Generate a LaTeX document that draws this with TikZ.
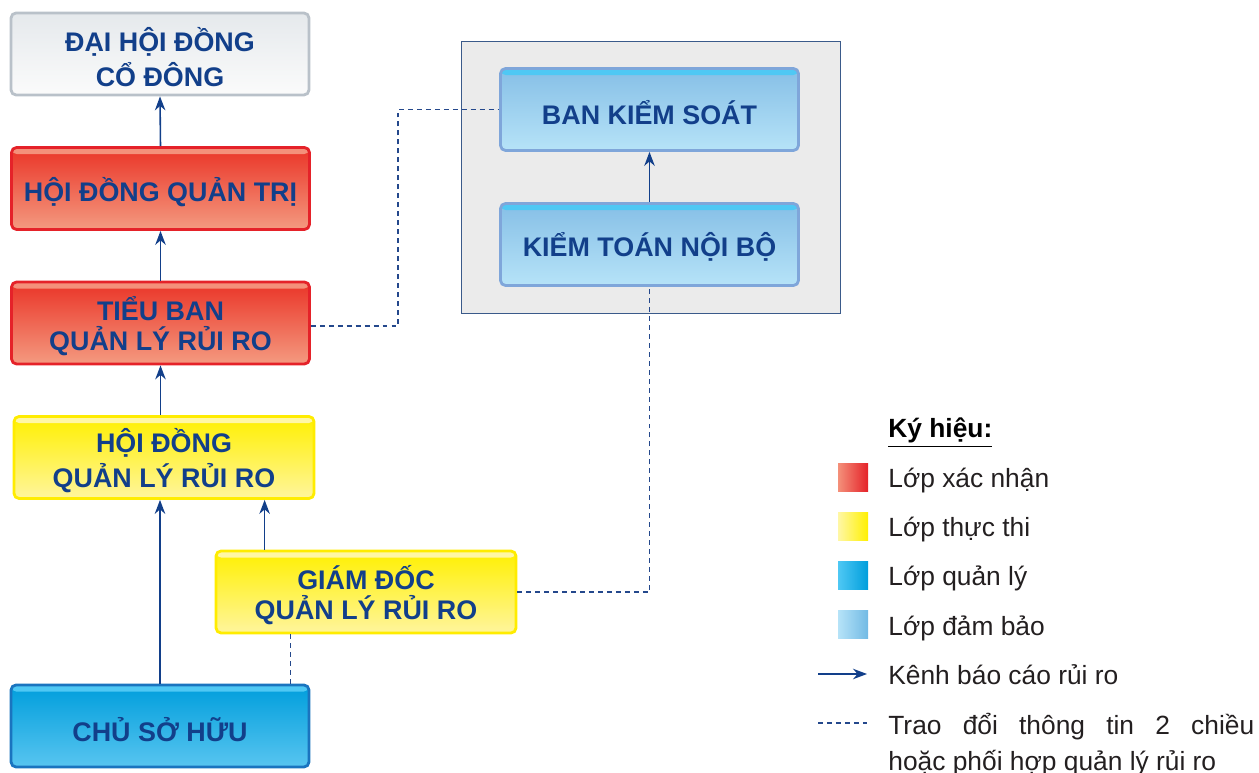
\documentclass[tikz,border=0pt]{standalone}
\usepackage{fontspec}
\setmainfont{Liberation Sans}
\usetikzlibrary{arrows.meta}

\definecolor{navy}{HTML}{123F8A}
\definecolor{linkc}{HTML}{24488C}
\definecolor{redB}{HTML}{E52229}
\definecolor{redT}{HTML}{EA3427}
\definecolor{redD}{HTML}{F49A80}
\definecolor{redH}{HTML}{F4907A}
\definecolor{yelB}{HTML}{FFEC00}
\definecolor{yelT}{HTML}{FFF000}
\definecolor{yelD}{HTML}{FFF59D}
\definecolor{yelH}{HTML}{FFF7A6}
\definecolor{bluB}{HTML}{1A74BF}
\definecolor{bluT}{HTML}{009EDC}
\definecolor{bluD}{HTML}{58C5F0}
\definecolor{bluH}{HTML}{4FC8F4}
\definecolor{lbB}{HTML}{7FA6DA}
\definecolor{lbT}{HTML}{86BFE6}
\definecolor{lbD}{HTML}{B6E3F8}
\definecolor{gryB}{HTML}{B9C1C9}
\definecolor{gryT}{HTML}{E5E9EC}
\definecolor{gryD}{HTML}{FBFBFB}
\definecolor{panelF}{HTML}{EBEBEB}
\definecolor{panelB}{HTML}{3A5A8A}
\definecolor{legtxt}{HTML}{231F20}

% box label pushed a little below the centre, under the glossy top band
\newcommand{\boxlabel}[2]{\raisebox{#1}[\height][\depth]{\shortstack{#2}}}

\tikzset{
  box/.style={rectangle, rounded corners=0.1cm, line width=1.6pt,
    minimum width=5.96cm, minimum height=1.64cm, inner sep=0pt,
    align=center, text=navy,
    font=\fontsize{15.3}{18.2}\selectfont\bfseries},
  hilite/.style={path picture={\fill[#1] (path picture bounding box.north west)
    rectangle ([yshift=-0.13cm]path picture bounding box.north east);}},
  graybox/.style={box, draw=gryB, top color=gryT, bottom color=gryD},
  redbox/.style={box, draw=redB, top color=redT, bottom color=redD, hilite=redH},
  yelbox/.style={box, draw=yelB, top color=yelT, bottom color=yelD, hilite=yelH},
  blubox/.style={box, draw=bluB, top color=bluT, bottom color=bluD, hilite=bluH},
  lbbox/.style={box, draw=lbB, top color=lbT, bottom color=lbD, hilite=bluH},
  panel/.style={rectangle, draw=panelB, fill=panelF, line width=0.5pt,
    minimum width=7.58cm, minimum height=5.44cm, inner sep=0pt},
  arr/.style={draw=navy, line width=0.9pt,
    -{Stealth[length=2.8mm,width=2.1mm,inset=0.9mm]}},
  dsh/.style={draw=linkc, line width=0.75pt, dash pattern=on 2.8pt off 2.3pt},
  legsq/.style={rectangle, minimum width=0.6cm, minimum height=0.58cm, inner sep=0pt},
  legtext/.style={anchor=base west, inner sep=0pt, text=legtxt,
    font=\fontsize{15}{18}\selectfont},
}

\begin{document}
\begin{tikzpicture}[x=0.02cm, y=-0.02cm]
\useasboundingbox (0,0) rectangle (1259,773);

% control panel behind the two supervisory boxes
\node[panel] (ks) at (650.5,177) {};

% main reporting chain
\node[graybox] (dhcd) at (160,54) {\boxlabel{-1.8pt}{ĐẠI HỘI ĐỒNG\\[0.5pt]CỔ ĐÔNG}};
\node[redbox] (hdqt) at (160.5,188.5) {\boxlabel{-1.8pt}{HỘI ĐỒNG QUẢN TRỊ}};
\node[redbox] (tb) at (160.5,323) {\boxlabel{-1.8pt}{TIỂU BAN\\[0.5pt]QUẢN LÝ RỦI RO}};
\node[yelbox, minimum width=6cm] (hdqlrr) at (164,457.5) {\boxlabel{-1.8pt}{HỘI ĐỒNG\\[0.5pt]QUẢN LÝ RỦI RO}};
\node[yelbox, minimum width=6cm] (gd) at (366,592) {\boxlabel{-1.8pt}{GIÁM ĐỐC\\[0.5pt]QUẢN LÝ RỦI RO}};
\node[blubox] (csh) at (160,726) {\boxlabel{-1.8pt}{CHỦ SỞ HỮU}};

% supervisory boxes
\node[lbbox] (bks) at (649.5,109.5) {\boxlabel{-1.5pt}{BAN KIỂM SOÁT}};
\node[lbbox] (ktnb) at (649.5,244.5) {\boxlabel{-1.5pt}{KIỂM TOÁN NỘI BỘ}};

% reporting arrows
\draw[arr] (hdqt.north) -- (dhcd.south);
\draw[arr] (tb.north) -- (hdqt.south);
\draw[arr] (hdqlrr.north -| tb.south) -- (tb.south);
\draw[arr] (csh.north) -- (csh.north |- hdqlrr.south);
\coordinate (g1) at ([xshift=1cm]gd.north west);
\draw[arr] (g1) -- (g1 |- hdqlrr.south);
\draw[arr] (ktnb.north) -- (bks.south);

% two-way coordination links
\coordinate (j1) at (398,326);
\draw[dsh] (tb.east |- j1) -- (j1) |- (bks.west);
\draw[dsh] (gd.east) -| (ktnb.south);
\coordinate (g2) at ([xshift=1.52cm]gd.south west);
\draw[dsh] (g2) -- (g2 |- csh.north);

% legend
\node[anchor=base west, inner sep=0pt, text=black,
  font=\fontsize{15}{18}\selectfont\bfseries] (lt) at (888,438) {\underline{Ký hiệu:}};
\node[legsq, left color=redH, right color=redB] (s1) at (853,477.5) {};
\node[legsq, left color=yelH, right color=yelT] (s2) at (853,526.5) {};
\node[legsq, left color=bluH, right color=bluT] (s3) at (853,575.5) {};
\node[legsq, left color=lbD, right color=lbT!85!bluT] (s4) at (853,624.5) {};
\node[legtext] (t1) at (888,488) {Lớp xác nhận};
\node[legtext] (t2) at (888,537) {Lớp thực thi};
\node[legtext] (t3) at (888,586) {Lớp quản lý};
\node[legtext] (t4) at (888,636) {Lớp đảm bảo};
\coordinate (a1) at (818,674);
\coordinate (a2) at (867,674);
\draw[arr] (a1) -- (a2);
\node[legtext] (t5) at (888,685) {Kênh báo cáo rủi ro};
\coordinate (d1) at (818,723);
\coordinate (d2) at (867,723);
\draw[dsh] (d1) -- (d2);
\node[legtext] (t6) at (888,735) {\makebox[7.32cm][s]{Trao đổi thông tin 2 chiều}};
\node[legtext] (t7) at (888,770) {hoặc phối hợp quản lý rủi ro};
\end{tikzpicture}
\end{document}
